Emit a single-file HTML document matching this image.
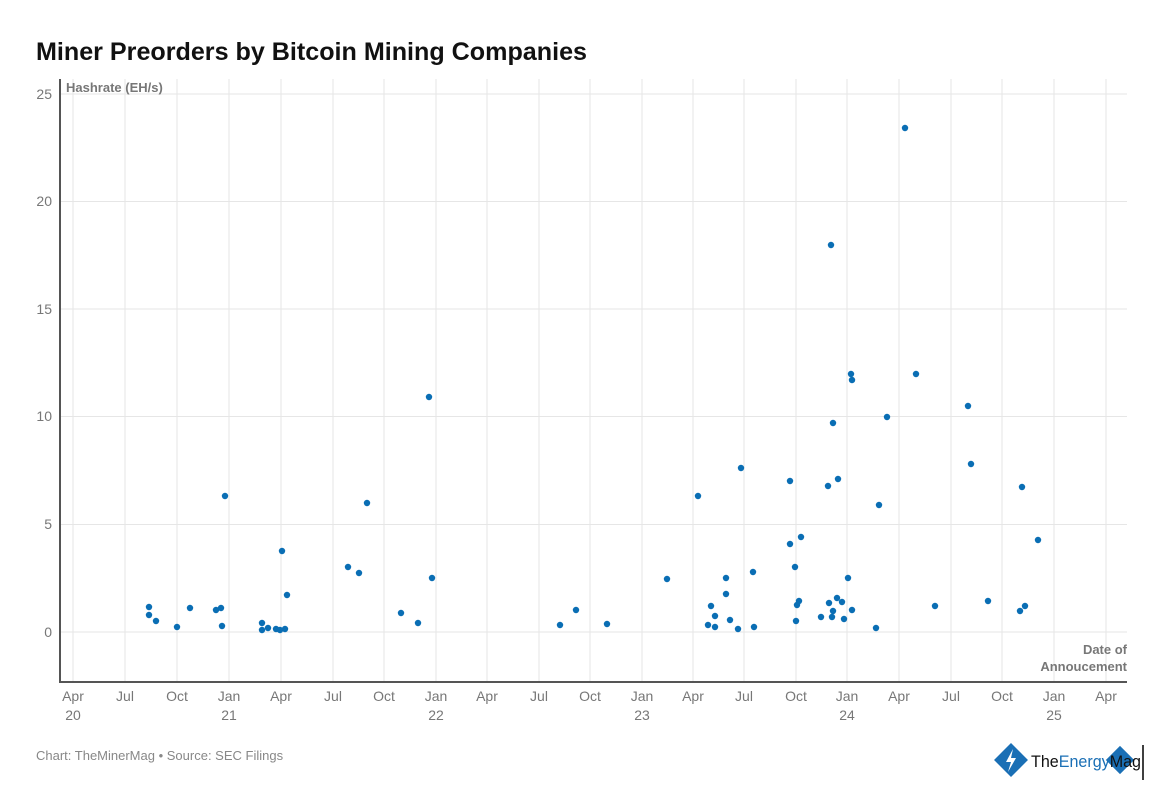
<!DOCTYPE html>
<html><head><meta charset="utf-8"><style>
body{margin:0;background:#fff;font-family:"Liberation Sans",sans-serif;}
</style></head><body>
<svg width="1164" height="800" viewBox="0 0 1164 800" xmlns="http://www.w3.org/2000/svg" font-family="Liberation Sans, sans-serif">
<rect width="1164" height="800" fill="#fff"/>
<text x="36" y="60" font-size="25" font-weight="bold" fill="#111" textLength="551" lengthAdjust="spacingAndGlyphs">Miner Preorders by Bitcoin Mining Companies</text>
<g stroke="#e6e6e6" stroke-width="1">
<line x1="60" x2="1127" y1="94" y2="94"/><line x1="60" x2="1127" y1="201.5" y2="201.5"/><line x1="60" x2="1127" y1="309" y2="309"/><line x1="60" x2="1127" y1="416.5" y2="416.5"/><line x1="60" x2="1127" y1="524.5" y2="524.5"/><line x1="60" x2="1127" y1="632" y2="632"/>
<line x1="73" x2="73" y1="79" y2="682"/><line x1="125" x2="125" y1="79" y2="682"/><line x1="177" x2="177" y1="79" y2="682"/><line x1="229" x2="229" y1="79" y2="682"/><line x1="281" x2="281" y1="79" y2="682"/><line x1="333" x2="333" y1="79" y2="682"/><line x1="384" x2="384" y1="79" y2="682"/><line x1="436" x2="436" y1="79" y2="682"/><line x1="487" x2="487" y1="79" y2="682"/><line x1="539" x2="539" y1="79" y2="682"/><line x1="590" x2="590" y1="79" y2="682"/><line x1="642" x2="642" y1="79" y2="682"/><line x1="693" x2="693" y1="79" y2="682"/><line x1="744" x2="744" y1="79" y2="682"/><line x1="796" x2="796" y1="79" y2="682"/><line x1="847" x2="847" y1="79" y2="682"/><line x1="899" x2="899" y1="79" y2="682"/><line x1="951" x2="951" y1="79" y2="682"/><line x1="1002" x2="1002" y1="79" y2="682"/><line x1="1054" x2="1054" y1="79" y2="682"/><line x1="1106" x2="1106" y1="79" y2="682"/>
</g>
<line x1="60" x2="60" y1="79" y2="683" stroke="#555" stroke-width="2"/>
<line x1="60" x2="1127" y1="682" y2="682" stroke="#555" stroke-width="2"/>
<g font-size="14" fill="#777" text-anchor="end">
<text x="52" y="99">25</text><text x="52" y="206">20</text><text x="52" y="314">15</text><text x="52" y="421">10</text><text x="52" y="529">5</text><text x="52" y="637">0</text>
</g>
<text x="66" y="92" font-size="13" font-weight="bold" fill="#777">Hashrate (EH/s)</text>
<g font-size="13" font-weight="bold" fill="#777" text-anchor="end"><text x="1127" y="654">Date of</text><text x="1127" y="671">Annoucement</text></g>
<g font-size="14" fill="#777" text-anchor="middle">
<text x="73" y="701">Apr</text><text x="73" y="720">20</text>
<text x="125" y="701">Jul</text><text x="177" y="701">Oct</text>
<text x="229" y="701">Jan</text><text x="229" y="720">21</text>
<text x="281" y="701">Apr</text><text x="333" y="701">Jul</text><text x="384" y="701">Oct</text>
<text x="436" y="701">Jan</text><text x="436" y="720">22</text>
<text x="487" y="701">Apr</text><text x="539" y="701">Jul</text><text x="590" y="701">Oct</text>
<text x="642" y="701">Jan</text><text x="642" y="720">23</text>
<text x="693" y="701">Apr</text><text x="744" y="701">Jul</text><text x="796" y="701">Oct</text>
<text x="847" y="701">Jan</text><text x="847" y="720">24</text>
<text x="899" y="701">Apr</text><text x="951" y="701">Jul</text><text x="1002" y="701">Oct</text>
<text x="1054" y="701">Jan</text><text x="1054" y="720">25</text>
<text x="1106" y="701">Apr</text>
</g>
<g fill="#0a6eb4">
<circle cx="149" cy="607" r="3.2"/><circle cx="149" cy="615" r="3.2"/><circle cx="156" cy="621" r="3.2"/><circle cx="177" cy="627" r="3.2"/><circle cx="190" cy="608" r="3.2"/><circle cx="216" cy="610" r="3.2"/><circle cx="221" cy="608" r="3.2"/><circle cx="222" cy="626" r="3.2"/><circle cx="225" cy="496" r="3.2"/><circle cx="262" cy="623" r="3.2"/><circle cx="262" cy="630" r="3.2"/><circle cx="268" cy="628" r="3.2"/><circle cx="276" cy="629" r="3.2"/><circle cx="280" cy="630" r="3.2"/><circle cx="282" cy="551" r="3.2"/><circle cx="285" cy="629" r="3.2"/><circle cx="287" cy="595" r="3.2"/><circle cx="348" cy="567" r="3.2"/><circle cx="359" cy="573" r="3.2"/><circle cx="367" cy="503" r="3.2"/><circle cx="401" cy="613" r="3.2"/><circle cx="418" cy="623" r="3.2"/><circle cx="429" cy="397" r="3.2"/><circle cx="432" cy="578" r="3.2"/><circle cx="560" cy="625" r="3.2"/><circle cx="576" cy="610" r="3.2"/><circle cx="607" cy="624" r="3.2"/><circle cx="667" cy="579" r="3.2"/><circle cx="698" cy="496" r="3.2"/><circle cx="708" cy="625" r="3.2"/><circle cx="711" cy="606" r="3.2"/><circle cx="715" cy="616" r="3.2"/><circle cx="715" cy="627" r="3.2"/><circle cx="726" cy="578" r="3.2"/><circle cx="726" cy="594" r="3.2"/><circle cx="730" cy="620" r="3.2"/><circle cx="738" cy="629" r="3.2"/><circle cx="741" cy="468" r="3.2"/><circle cx="753" cy="572" r="3.2"/><circle cx="754" cy="627" r="3.2"/><circle cx="790" cy="481" r="3.2"/><circle cx="790" cy="544" r="3.2"/><circle cx="795" cy="567" r="3.2"/><circle cx="796" cy="621" r="3.2"/><circle cx="797" cy="605" r="3.2"/><circle cx="799" cy="601" r="3.2"/><circle cx="801" cy="537" r="3.2"/><circle cx="821" cy="617" r="3.2"/><circle cx="828" cy="486" r="3.2"/><circle cx="829" cy="603" r="3.2"/><circle cx="832" cy="617" r="3.2"/><circle cx="831" cy="245" r="3.2"/><circle cx="833" cy="423" r="3.2"/><circle cx="833" cy="611" r="3.2"/><circle cx="838" cy="479" r="3.2"/><circle cx="837" cy="598" r="3.2"/><circle cx="842" cy="602" r="3.2"/><circle cx="844" cy="619" r="3.2"/><circle cx="848" cy="578" r="3.2"/><circle cx="851" cy="374" r="3.2"/><circle cx="852" cy="380" r="3.2"/><circle cx="852" cy="610" r="3.2"/><circle cx="876" cy="628" r="3.2"/><circle cx="879" cy="505" r="3.2"/><circle cx="887" cy="417" r="3.2"/><circle cx="905" cy="128" r="3.2"/><circle cx="916" cy="374" r="3.2"/><circle cx="935" cy="606" r="3.2"/><circle cx="968" cy="406" r="3.2"/><circle cx="971" cy="464" r="3.2"/><circle cx="988" cy="601" r="3.2"/><circle cx="1020" cy="611" r="3.2"/><circle cx="1022" cy="487" r="3.2"/><circle cx="1025" cy="606" r="3.2"/><circle cx="1038" cy="540" r="3.2"/>
</g>
<text x="36" y="760" font-size="13" fill="#888">Chart: TheMinerMag • Source: SEC Filings</text>
<rect x="999" y="748" width="24" height="24" fill="#1a6fb5" transform="rotate(45 1011 760)"/>
<path d="M1013 749 L1006 762 L1011 762 L1008 772 L1016 758 L1011 758 Z" fill="#fff"/>
<rect x="1110" y="750" width="20" height="20" fill="#1a6fb5" transform="rotate(45 1120 760)"/>
<text x="1031" y="767" font-size="17" fill="#111" textLength="110" lengthAdjust="spacingAndGlyphs">The<tspan fill="#1a6fb5">Energy</tspan>Mag</text>
<line x1="1143" x2="1143" y1="745" y2="780" stroke="#000" stroke-width="1.5"/>
</svg>
</body></html>
